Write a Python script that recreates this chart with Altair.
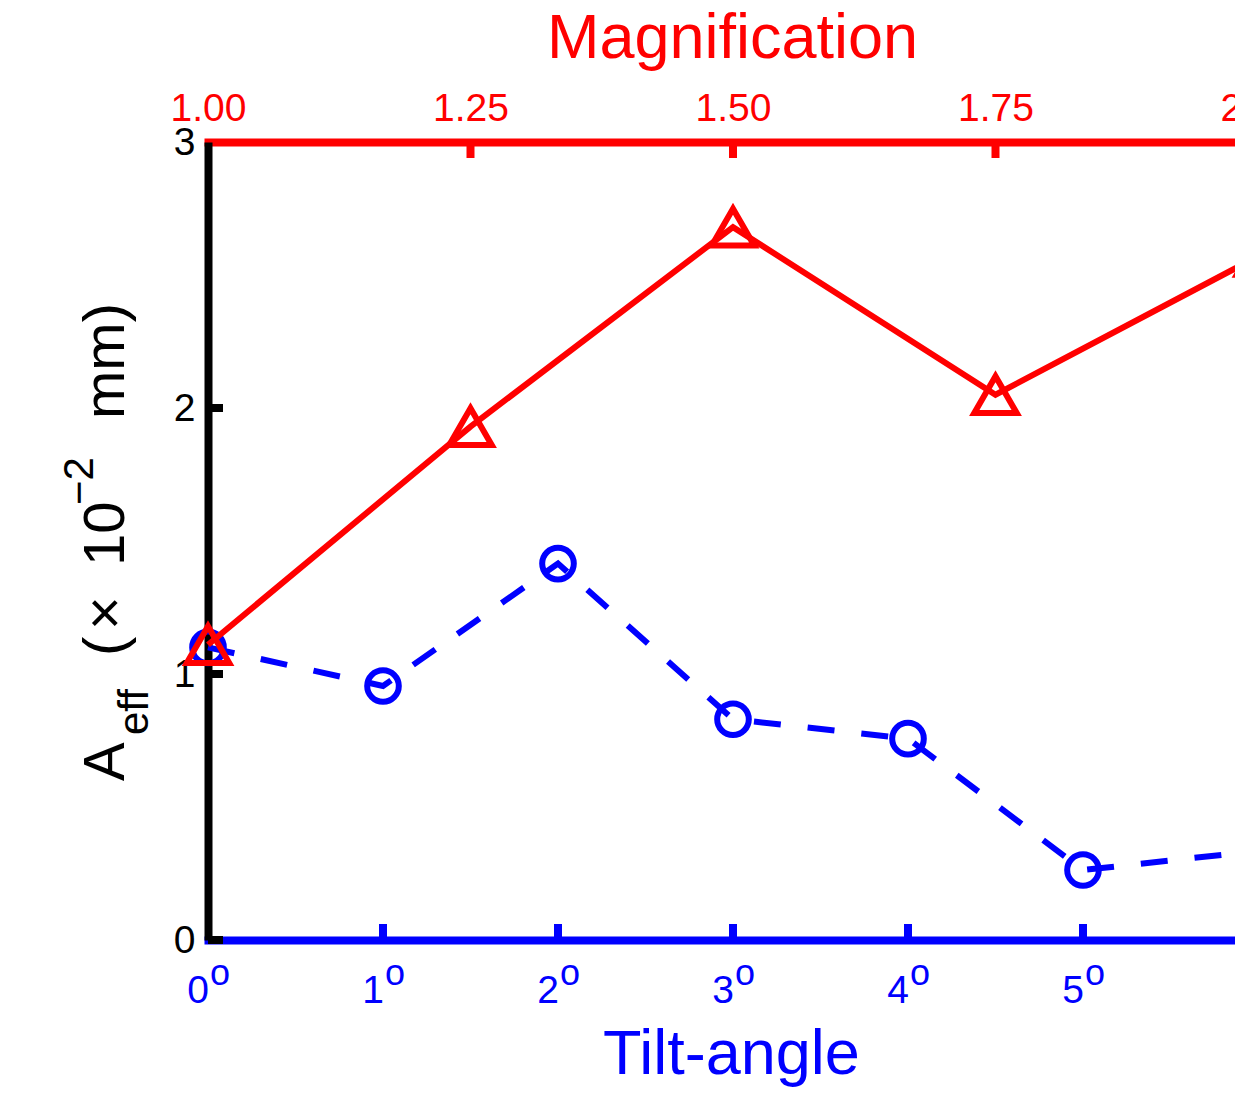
import altair as alt
import pandas as pd

# ---- values ----
tilt_deg = [0, 1, 2, 3, 4, 5, 6]
aeff_tilt = [1.10, 0.955, 1.415, 0.83, 0.757, 0.263, 0.335]
magnification = [1.00, 1.25, 1.50, 1.75, 2.00]
aeff_mag = [1.11, 1.93, 2.68, 2.05, 2.57]

y_ticks = [0, 1, 2, 3]
tilt_ticks = [0, 1, 2, 3, 4, 5, 6]
tilt_tick_labels = ["0", "1", "2", "3", "4", "5", "6"]
mag_ticks = [1.00, 1.25, 1.50, 1.75, 2.00]

RED = "#ff0000"
BLUE = "#0000ff"
FONT = "Liberation Sans"
SPAN = 1050   # pixel length of the full axis (its right end lies beyond the page edge)
PLOT_H = 798

tilt_df = pd.DataFrame({"tilt": tilt_deg, "aeff": aeff_tilt})
mag_df = pd.DataFrame({"mag": magnification, "aeff": aeff_mag})
tilt_lab_df = pd.DataFrame({"tilt": tilt_ticks, "lab": tilt_tick_labels,
                            "sup": ["o"] * len(tilt_ticks)})
btick_df = pd.DataFrame({"tilt": tilt_ticks[1:]})
ttick_df = pd.DataFrame({"mag": mag_ticks[1:]})
ltick_df = pd.DataFrame({"v": y_ticks[:3]})
rtick_df = pd.DataFrame({"v": y_ticks[1:3]})
one = pd.DataFrame({"k": [0]})

xs_tilt = alt.Scale(domain=[0, 6], range=[0, SPAN], nice=False, zero=False)
xs_mag = alt.Scale(domain=[1, 2], range=[0, SPAN], nice=False, zero=False)
ys = alt.Scale(domain=[0, 3], nice=False, zero=False)

y_axis = alt.Axis(orient="left", values=y_ticks, ticks=False, tickSize=0, grid=False,
                  domainColor="black", domainWidth=8,
                  labelFont=FONT, labelFontSize=39, labelColor="black", labelPadding=13,
                  labelFlush=False, labelOverlap=False, title=None)

bottom_axis = alt.Axis(orient="bottom", values=tilt_ticks, ticks=False, tickSize=0, labels=False,
                       grid=False, domainColor=BLUE, domainWidth=8, domainCap="square",
                       title="Tilt-angle", titleFont=FONT, titleFontSize=63, titleFontWeight="normal",
                       titleColor=BLUE, titleX=523, titleY=133, titleAlign="center",
                       titleBaseline="alphabetic")

top_axis = alt.Axis(orient="top", values=mag_ticks, format=".2f", ticks=False, tickSize=0, grid=False,
                    domainColor=RED, domainWidth=8, domainCap="square",
                    labelFont=FONT, labelFontSize=39, labelColor=RED, labelPadding=22,
                    labelBaseline="alphabetic", labelFlush=False, labelOverlap=False,
                    title="Magnification", titleFont=FONT, titleFontSize=63, titleFontWeight="normal",
                    titleColor=RED, titleX=524, titleY=-85, titleAlign="center",
                    titleBaseline="alphabetic")

XT = alt.X("tilt:Q", scale=xs_tilt, axis=bottom_axis)
XM = alt.X("mag:Q", scale=xs_mag, axis=top_axis)
Y = alt.Y("aeff:Q", scale=ys, axis=y_axis)
YV = alt.Y("v:Q", scale=ys, axis=y_axis)

# ---- blue (tilt-angle) group ----
blue_line = alt.Chart(tilt_df).mark_line(color=BLUE, strokeWidth=6, strokeDash=[27, 27]).encode(x=XT, y=Y)
blue_pts = alt.Chart(tilt_df).mark_point(shape="circle", size=1000, filled=False, color=BLUE,
                                         strokeWidth=6, opacity=1).encode(x=XT, y=Y)
btick = alt.Chart(btick_df).mark_rule(color=BLUE, strokeWidth=8).encode(
    x=XT, y=alt.value(PLOT_H), y2=alt.value(PLOT_H - 16))
blab = alt.Chart(tilt_lab_df).mark_text(font=FONT, fontSize=39, color=BLUE, align="center",
                                        baseline="alphabetic", dx=-10).encode(
    x=XT, y=alt.value(861), text="lab:N")
bsup = alt.Chart(tilt_lab_df).mark_text(font=FONT, fontSize=36, color=BLUE, align="center",
                                        baseline="alphabetic", dx=12).encode(
    x=XT, y=alt.value(843), text="sup:N")
ltick = alt.Chart(ltick_df).mark_rule(color="black", strokeWidth=8).encode(
    y=YV, x=alt.value(0), x2=alt.value(15))
rtick = alt.Chart(rtick_df).mark_rule(color="black", strokeWidth=8).encode(
    y=YV, x=alt.value(SPAN - 20), x2=alt.value(SPAN))

blue_group = alt.layer(btick, blab, bsup, blue_line, blue_pts, ltick, rtick)

# ---- red (magnification) group ----
red_line = alt.Chart(mag_df).mark_line(color=RED, strokeWidth=6).encode(x=XM, y=Y)
red_pts = alt.Chart(mag_df).mark_point(shape="triangle-up", size=1800, filled=False, color=RED,
                                       strokeWidth=6, opacity=1).encode(x=XM, y=Y)
ttick = alt.Chart(ttick_df).mark_rule(color=RED, strokeWidth=8).encode(
    x=XM, y=alt.value(0), y2=alt.value(16))
red_group = alt.layer(ttick, red_line, red_pts)


# ---- y-axis title pieces: A_eff (x 10^-2 mm) ----
def piece(text, x, y, size):
    return alt.Chart(one).mark_text(text=text, font=FONT, fontSize=size, color="black", angle=270,
                                    align="left", baseline="alphabetic").encode(
        x=alt.value(x), y=alt.value(y))


ytitle = [
    piece("A", -84, 639, 58),
    piece("eff", -60, 593, 42),
    piece("(", -84, 514, 58),
    piece("\u00d7", -84, 488, 58),
    piece("10", -84, 424, 58),
    piece("\u22122", -115, 363, 42),
    piece("mm)", -84, 277, 58),
]

chart = alt.layer(blue_group, red_group, *ytitle).resolve_scale(x="independent").properties(
    width=1027, height=PLOT_H,
    autosize=alt.AutoSizeParams(type="none"),
    padding={"left": 200, "top": 134, "right": 0, "bottom": 158},
    background="white",
).configure_view(stroke=None)

chart.save("out.html", embed_options={"renderer": "svg", "actions": False})
